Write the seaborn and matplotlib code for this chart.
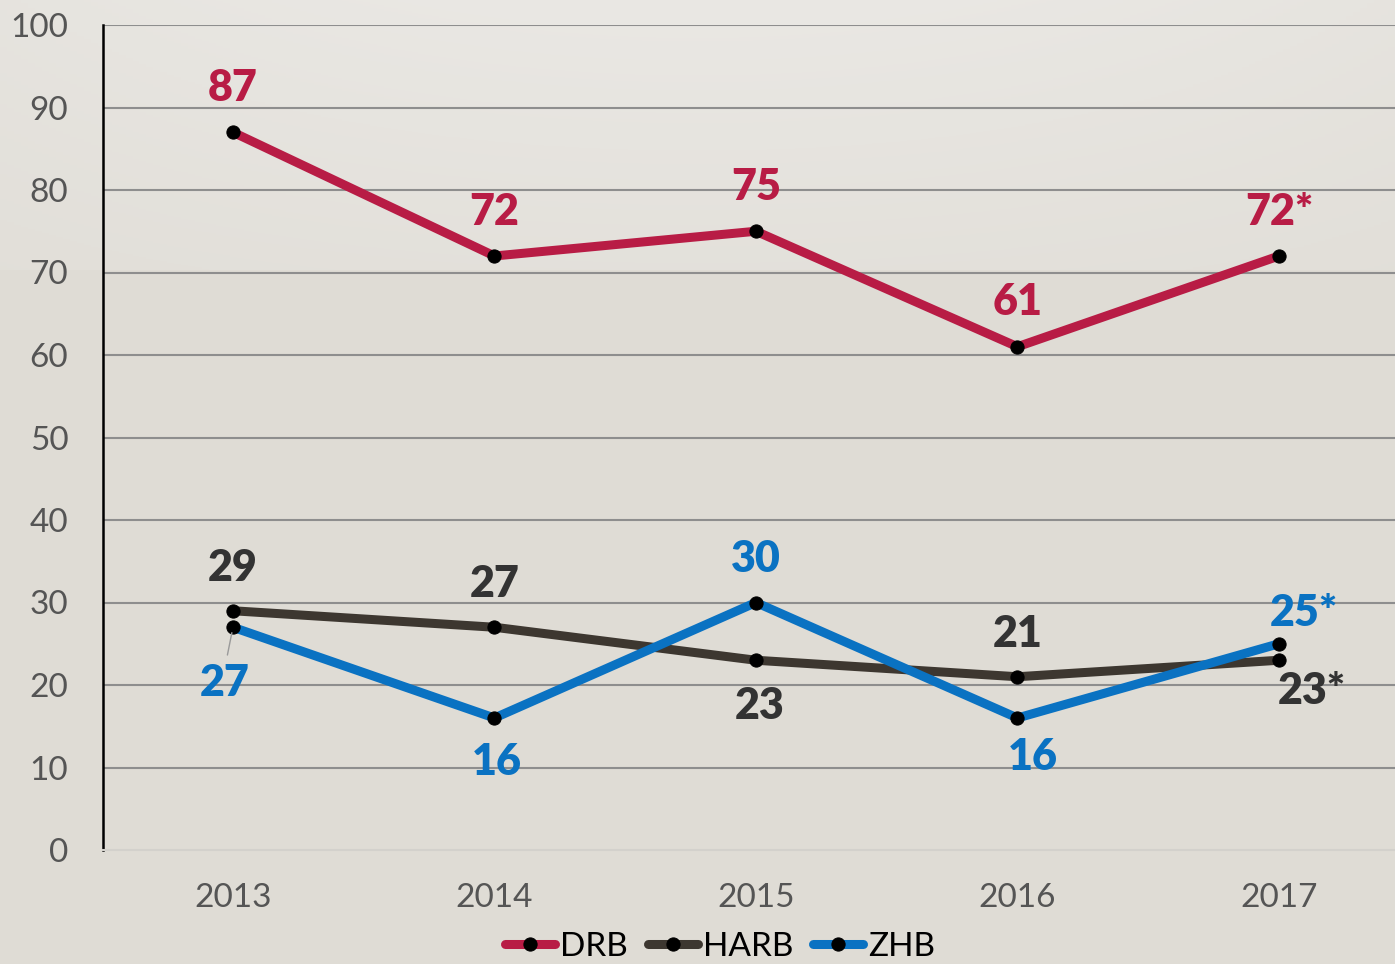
import numpy as np
import pandas as pd
import seaborn as sns
import matplotlib.pyplot as plt

# chart values
years = ['2013', '2014', '2015', '2016', '2017']
drb = [87, 72, 75, 61, 72]
harb = [29, 27, 23, 21, 23]
zhb = [27, 16, 30, 16, 25]

drb_labels = ['87', '72', '75', '61', '72*']
harb_labels = ['29', '27', '23', '21', '23*']
zhb_labels = ['27', '16', '30', '16', '25*']

series_names = ['DRB', 'HARB', 'ZHB']
colors = {'DRB': '#B81C45', 'HARB': '#3D3730', 'ZHB': '#0A72C2'}
text_colors = {'DRB': '#B81C45', 'HARB': '#333333', 'ZHB': '#0A72C2'}

df = pd.DataFrame({
    'idx': list(range(len(years))) * 3,
    'value': drb + harb + zhb,
    'series': [s for s in series_names for _ in years],
})

sns.set_theme(style='white')
plt.rcParams['font.family'] = ['Lato', 'DejaVu Sans']

fig = plt.figure(figsize=(13.95, 9.64), dpi=100)

# background with a lighter band at the top
bg_ax = fig.add_axes([0, 0, 1, 1], zorder=-10)
h, w = 964, 200
base = np.array([223, 220, 213]) / 255
light = np.array([234, 232, 228]) / 255
img = np.tile(base, (h, w, 1))
xs = np.linspace(-1, 1, w)
for r in range(270):
    t = 1 - r / 270 * 0.6
    row = base + (light - base) * t * (1 - 0.35 * xs ** 2)[:, None]
    img[r] = row
bg_ax.imshow(img, aspect='auto', extent=[0, 1, 0, 1], origin='upper')
bg_ax.axis('off')

ax = fig.add_axes([103 / 1395, 114 / 964, 1 - 103 / 1395, (850 - 25) / 964])
ax.set_facecolor('none')

for name in series_names:
    sub = df[df['series'] == name]
    sns.lineplot(data=sub, x='idx', y='value', ax=ax, color=colors[name], lw=6.5,
                 marker='o', markersize=9.5, markerfacecolor='black',
                 markeredgecolor='black', label=name, solid_capstyle='round')

# data labels (offsets in points)
offsets = {
    'DRB': [(0, 32), (0, 32), (0, 32), (0, 32), (0, 32)],
    'HARB': [(0, 31), (0, 31), (3, -33), (0, 31), (24, -22)],
    'ZHB': [(-6, -40), (2, -32), (0, 31), (11, -28), (18, 22)],
}
all_vals = {'DRB': (drb, drb_labels), 'HARB': (harb, harb_labels), 'ZHB': (zhb, zhb_labels)}
for name in series_names:
    vals, labs = all_vals[name]
    for i, (v, lab) in enumerate(zip(vals, labs)):
        dx, dy = offsets[name][i]
        ax.annotate(lab, (i, v), xytext=(dx, dy), textcoords='offset points',
                    ha='center', va='center', fontsize=31, fontweight='heavy',
                    color=text_colors[name], zorder=10)

# small leader line for the first ZHB label
ax.annotate('', xy=(0, zhb[0]), xytext=(-4, -20), textcoords='offset points',
            arrowprops=dict(arrowstyle='-', color='#9a9a9a', lw=1, shrinkA=0, shrinkB=4))

ax.set_xlim(-0.497, 4.444)
ax.set_ylim(0, 100)
ax.set_xticks(range(len(years)))
ax.set_xticklabels(years)
ax.set_yticks(range(0, 101, 10))
ax.set_xlabel('')
ax.set_ylabel('')
ax.tick_params(axis='both', length=0, labelsize=24, labelcolor='#555555')
ax.tick_params(axis='y', pad=25)
ax.tick_params(axis='x', pad=24)

for y in range(10, 101, 10):
    ax.axhline(y, color='#8E8E8E', lw=1.5, zorder=0)

sns.despine(ax=ax, top=True, right=True)
ax.spines['left'].set_color('black')
ax.spines['left'].set_linewidth(1.8)
ax.spines['bottom'].set_color('#d3d1cc')
ax.spines['bottom'].set_linewidth(1.5)

handles, labels = ax.get_legend_handles_labels()
ax.get_legend().remove()
fig.legend(handles, labels, loc='center', bbox_to_anchor=(0.516, 0.018), ncol=3,
           frameon=False, fontsize=24, handlelength=1.5, handletextpad=0.15,
           columnspacing=0.6, labelcolor='black')

plt.savefig('out.png', dpi=100)
